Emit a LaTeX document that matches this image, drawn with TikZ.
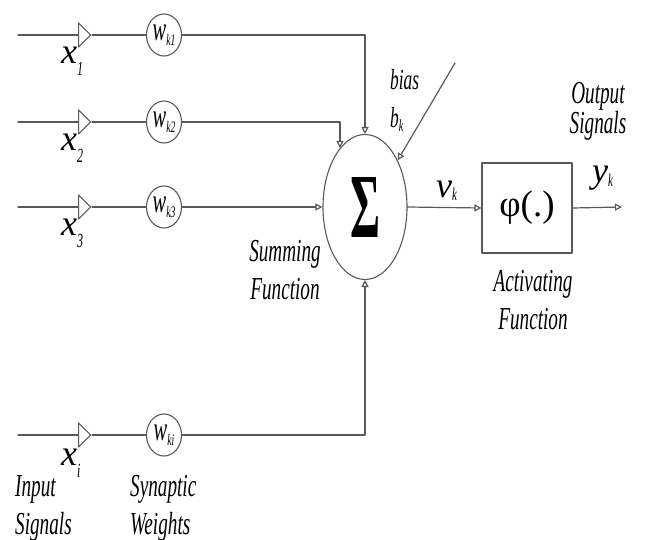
\documentclass[tikz,border=0pt]{standalone}
\usepackage{fontspec}
\setmainfont{Liberation Serif}
\newfontfamily\condfont{Liberation Serif}[FakeStretch=0.6]
\usepackage{graphicx}
\usetikzlibrary{arrows.meta,shapes.geometric}

\newcommand\lowidx[3][12pt]{\raisebox{-#1}{\condfont\itshape\fontsize{#2}{#2}\selectfont #3}}

\tikzset{
  wire/.style={line width=1.2pt, draw=black!65},
  tip/.style={-{Triangle[open,length=7pt,width=7pt]}},
  gate/.style={isosceles triangle, isosceles triangle stretches, draw=black!65, line width=1.1pt,
    fill=white, minimum width=24pt, minimum height=12pt, inner sep=0pt},
  weight/.style={ellipse, draw=black!65, line width=1.1pt, minimum width=35pt, minimum height=42pt,
    inner sep=0pt, font=\condfont\itshape\fontsize{34}{34}\selectfont},
  lbl/.style={font=\condfont\itshape\fontsize{32}{38}\selectfont, inner sep=0pt},
  var/.style={font=\itshape\fontsize{36}{36}\selectfont, inner sep=0pt, anchor=base west},
}

\begin{document}
\begin{tikzpicture}[x=1pt, y=-1pt, line cap=round, line join=round]

  % ── 求和单元与激活函数 ──
  \node[ellipse, draw=black!65, line width=1.1pt, minimum width=84pt, minimum height=145pt, inner sep=0pt]
    (sum) at (365,207) {\resizebox{30pt}{60pt}{\bfseries Σ}};
  \node[draw=black!65, line width=1.1pt, minimum width=90pt, minimum height=90pt, inner sep=0pt]
    (phi) at (527,208) {\fontsize{37}{37}\selectfont φ(.)};

  % ── 四路输入：起点、三角、权重圈 ──
  \coordinate (in1) at (18,35);
  \coordinate (in2) at (18,122);
  \coordinate (in3) at (18,207);
  \coordinate (in4) at (18,435);

  \node[gate, anchor=apex] (g1) at (92,35) {};
  \node[gate, anchor=apex] (g2) at (92,122) {};
  \node[gate, anchor=apex] (g3) at (92,207) {};
  \node[gate, anchor=apex] (g4) at (92,435) {};

  \node[weight] (w1) at (164,35)  {w\lowidx[5pt]{16}{k1}};
  \node[weight] (w2) at (164,122) {w\lowidx[5pt]{16}{k2}};
  \node[weight] (w3) at (164,207) {w\lowidx[5pt]{16}{k3}};
  \node[weight] (w4) at (164,435) {w\lowidx[5pt]{16}{ki}};

  \draw[wire] (in1) -- (g1.lower side);  \draw[wire] (g1.apex) -- (w1);
  \draw[wire] (in2) -- (g2.lower side);  \draw[wire] (g2.apex) -- (w2);
  \draw[wire] (in3) -- (g3.lower side);  \draw[wire] (g3.apex) -- (w3);
  \draw[wire] (in4) -- (g4.lower side);  \draw[wire] (g4.apex) -- (w4);

  % ── 汇入求和单元 ──
  \draw[wire, tip] (w1) -| (sum.north);
  \draw[wire, tip] (w2) -| (sum.113);
  \draw[wire, tip] (w3) -- (sum.west);
  \draw[wire, tip] (w4) -| (sum.south);

  % ── 偏置与输出 ──
  \coordinate (biasin) at (455,63);
  \coordinate (out) at (622,207);
  \draw[wire, tip] (biasin) -- (sum.55);
  \draw[wire, tip] (sum.east) -- (phi.west);
  \draw[wire, tip] (phi.east) -- (out);

  % ── 变量标注 ──
  \node[var] (lx1) at (61,64)  {x\lowidx{20}{1}};
  \node[var] (lx2) at (61,151) {x\lowidx{20}{2}};
  \node[var] (lx3) at (61,236) {x\lowidx{20}{3}};
  \node[var] (lx4) at (61,465) {x\lowidx{20}{i}};
  \node[var] (lv) at (436,197) {v\lowidx[3pt]{18}{k}};
  \node[var] (ly) at (592,183) {y\lowidx[4pt]{18}{k}};
  \node[lbl, anchor=base west, font=\condfont\itshape\fontsize{29}{29}\selectfont] (lbias) at (390,90) {bias};
  \node[lbl, anchor=base west, font=\condfont\itshape\fontsize{29}{29}\selectfont] (lb) at (390,128) {b\lowidx[4pt]{17}{k}};

  % ── 说明文字 ──
  \node[lbl, anchor=north, align=center] (tsum) at (285,240) {Summing\\Function};
  \node[lbl, anchor=north, align=center] (tact) at (533,270) {Activating\\Function};
  \node[lbl, anchor=north, align=center, font=\condfont\itshape\fontsize{32}{29}\selectfont]
    (tout) at (598,82) {Output\\Signals};
  \node[lbl, anchor=north west, align=left] (tin) at (15,475) {Input\\Signals};
  \node[lbl, anchor=north west, align=left] (tsyn) at (130,475) {Synaptic\\Weights};

  % 钉死画布
  \pgfresetboundingbox
  \path[use as bounding box] (0,0) rectangle (645,540);
\end{tikzpicture}
\end{document}
